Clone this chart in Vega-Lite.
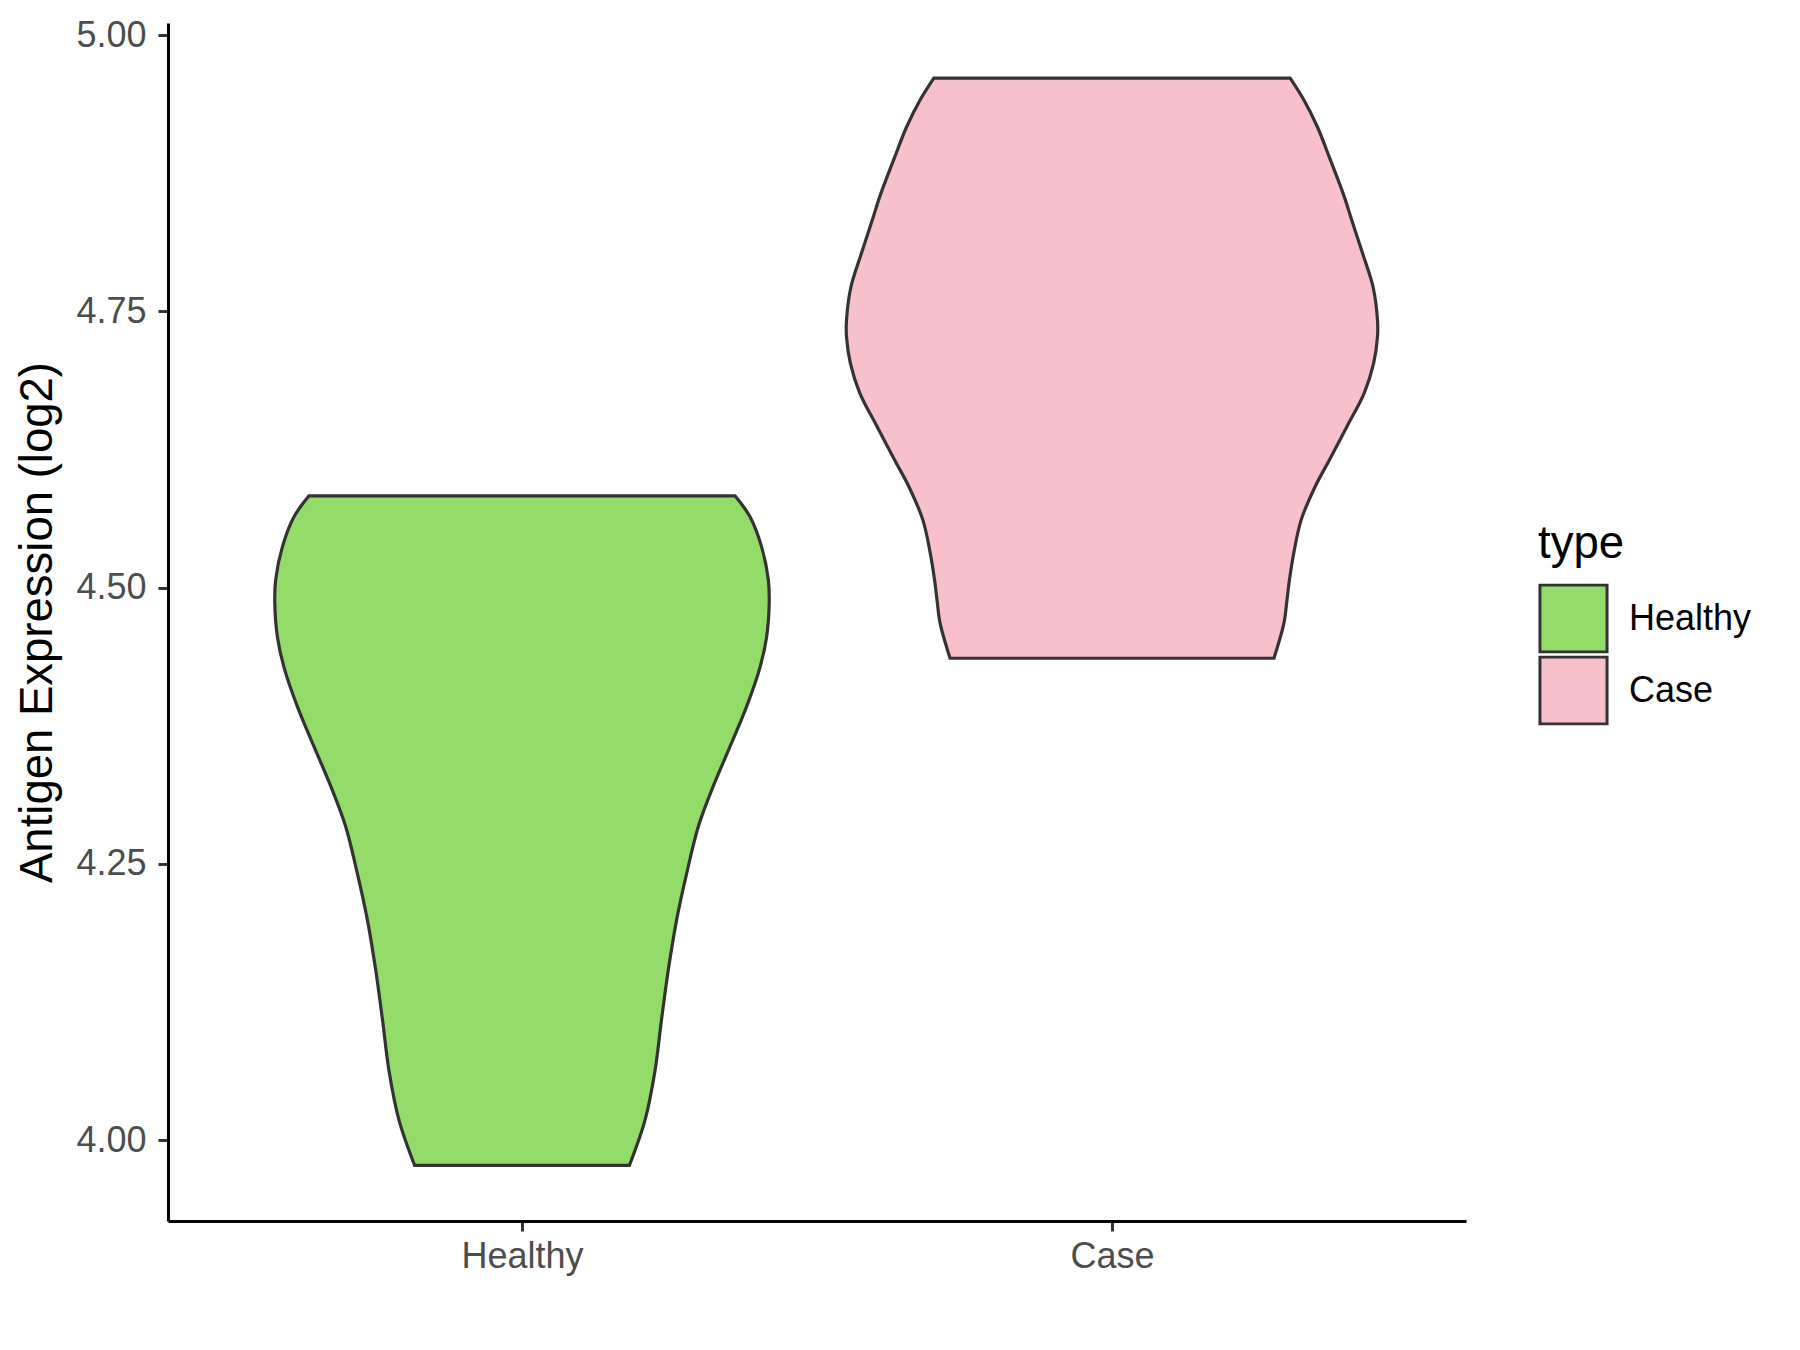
{
  "$schema": "https://vega.github.io/schema/vega-lite/v6.json",
  "width": 1298,
  "height": 1198,
  "autosize": {"type": "none"},
  "padding": {"left": 168, "top": 23, "right": 334, "bottom": 129},
  "background": "white",
  "config": {"view": {"stroke": null}, "font": "Liberation Sans"},
  "data": {
    "values": [
      {"type": "Healthy", "value": 3.977, "width": 0.364},
      {"type": "Healthy", "value": 4.018, "width": 0.417},
      {"type": "Healthy", "value": 4.063, "width": 0.451},
      {"type": "Healthy", "value": 4.109, "width": 0.473},
      {"type": "Healthy", "value": 4.154, "width": 0.496},
      {"type": "Healthy", "value": 4.199, "width": 0.524},
      {"type": "Healthy", "value": 4.241, "width": 0.558},
      {"type": "Healthy", "value": 4.284, "width": 0.598},
      {"type": "Healthy", "value": 4.320, "width": 0.648},
      {"type": "Healthy", "value": 4.356, "width": 0.705},
      {"type": "Healthy", "value": 4.392, "width": 0.761},
      {"type": "Healthy", "value": 4.428, "width": 0.807},
      {"type": "Healthy", "value": 4.455, "width": 0.829},
      {"type": "Healthy", "value": 4.486, "width": 0.838},
      {"type": "Healthy", "value": 4.507, "width": 0.835},
      {"type": "Healthy", "value": 4.537, "width": 0.812},
      {"type": "Healthy", "value": 4.564, "width": 0.773},
      {"type": "Healthy", "value": 4.583, "width": 0.722},
      {"type": "Case", "value": 4.436, "width": 0.549},
      {"type": "Case", "value": 4.468, "width": 0.583},
      {"type": "Case", "value": 4.486, "width": 0.592},
      {"type": "Case", "value": 4.504, "width": 0.600},
      {"type": "Case", "value": 4.531, "width": 0.616},
      {"type": "Case", "value": 4.561, "width": 0.641},
      {"type": "Case", "value": 4.591, "width": 0.688},
      {"type": "Case", "value": 4.615, "width": 0.736},
      {"type": "Case", "value": 4.646, "width": 0.797},
      {"type": "Case", "value": 4.676, "width": 0.855},
      {"type": "Case", "value": 4.703, "width": 0.887},
      {"type": "Case", "value": 4.727, "width": 0.900},
      {"type": "Case", "value": 4.742, "width": 0.900},
      {"type": "Case", "value": 4.772, "width": 0.885},
      {"type": "Case", "value": 4.802, "width": 0.850},
      {"type": "Case", "value": 4.833, "width": 0.812},
      {"type": "Case", "value": 4.854, "width": 0.787},
      {"type": "Case", "value": 4.890, "width": 0.736},
      {"type": "Case", "value": 4.917, "width": 0.696},
      {"type": "Case", "value": 4.941, "width": 0.651},
      {"type": "Case", "value": 4.961, "width": 0.604}
    ]
  },
  "layer": [
    {
      "transform": [{"filter": {"field": "type", "equal": "Healthy"}}],
      "mark": {"type": "area", "orient": "horizontal", "interpolate": "catmull-rom", "stroke": "#333333", "strokeWidth": 3.2, "fillOpacity": 1, "strokeJoin": "miter"},
      "encoding": {
        "y": {
          "field": "value", "type": "quantitative",
          "scale": {"domain": [3.9267, 5.0109], "nice": false, "zero": false},
          "axis": {
            "title": "Antigen Expression (log2)", "values": [4, 4.25, 4.5, 4.75, 5], "format": ".2f",
            "grid": false, "domainColor": "#000000", "domainWidth": 3,
            "tickColor": "#333333", "tickWidth": 3, "tickSize": 10,
            "labelFont": "Liberation Sans", "labelFontSize": 36, "labelColor": "#4D4D4D", "labelPadding": 12,
            "titleFont": "Liberation Sans", "titleFontSize": 45.5, "titleFontWeight": "normal", "titleColor": "#000000", "titlePadding": 14
          }
        },
        "x": {
          "field": "width", "type": "quantitative", "stack": "center",
          "scale": {"domain": [-0.181, 2.019], "nice": false, "zero": false},
          "axis": {
            "title": null, "values": [0.419, 1.419], "labelExpr": "datum.value < 1 ? 'Healthy' : 'Case'",
            "grid": false, "domainColor": "#000000", "domainWidth": 3,
            "tickColor": "#333333", "tickWidth": 3, "tickSize": 10,
            "labelFont": "Liberation Sans", "labelFontSize": 36, "labelColor": "#4D4D4D", "labelPadding": 8
          }
        },
        "color": {
          "field": "type", "type": "nominal",
          "scale": {"domain": ["Healthy", "Case"], "range": ["#93DC6A", "#F8C0CB"]},
          "legend": {
            "title": "type", "orient": "none", "legendX": 1370, "legendY": 499,
            "symbolType": "square", "symbolSize": 4500, "symbolStrokeColor": "#333333", "symbolStrokeWidth": 3, "symbolOpacity": 1,
            "labelFont": "Liberation Sans", "labelFontSize": 36, "labelColor": "#000000", "labelOffset": 20,
            "titleFont": "Liberation Sans", "titleFontSize": 45.5, "titleFontWeight": "normal", "titleColor": "#000000", "titlePadding": 16,
            "clipHeight": 70, "rowPadding": 2
          }
        }
      }
    },
    {
      "transform": [{"filter": {"field": "type", "equal": "Case"}}],
      "mark": {"type": "area", "orient": "horizontal", "interpolate": "catmull-rom", "stroke": "#333333", "strokeWidth": 3.2, "fillOpacity": 1, "strokeJoin": "miter"},
      "encoding": {
        "y": {"field": "value", "type": "quantitative"},
        "x": {
          "field": "width", "type": "quantitative", "stack": "center",
          "scale": {"domain": [-1.15, 1.05], "nice": false, "zero": false},
          "axis": null
        },
        "color": {"field": "type", "type": "nominal"}
      }
    }
  ],
  "resolve": {"scale": {"x": "independent"}}
}
